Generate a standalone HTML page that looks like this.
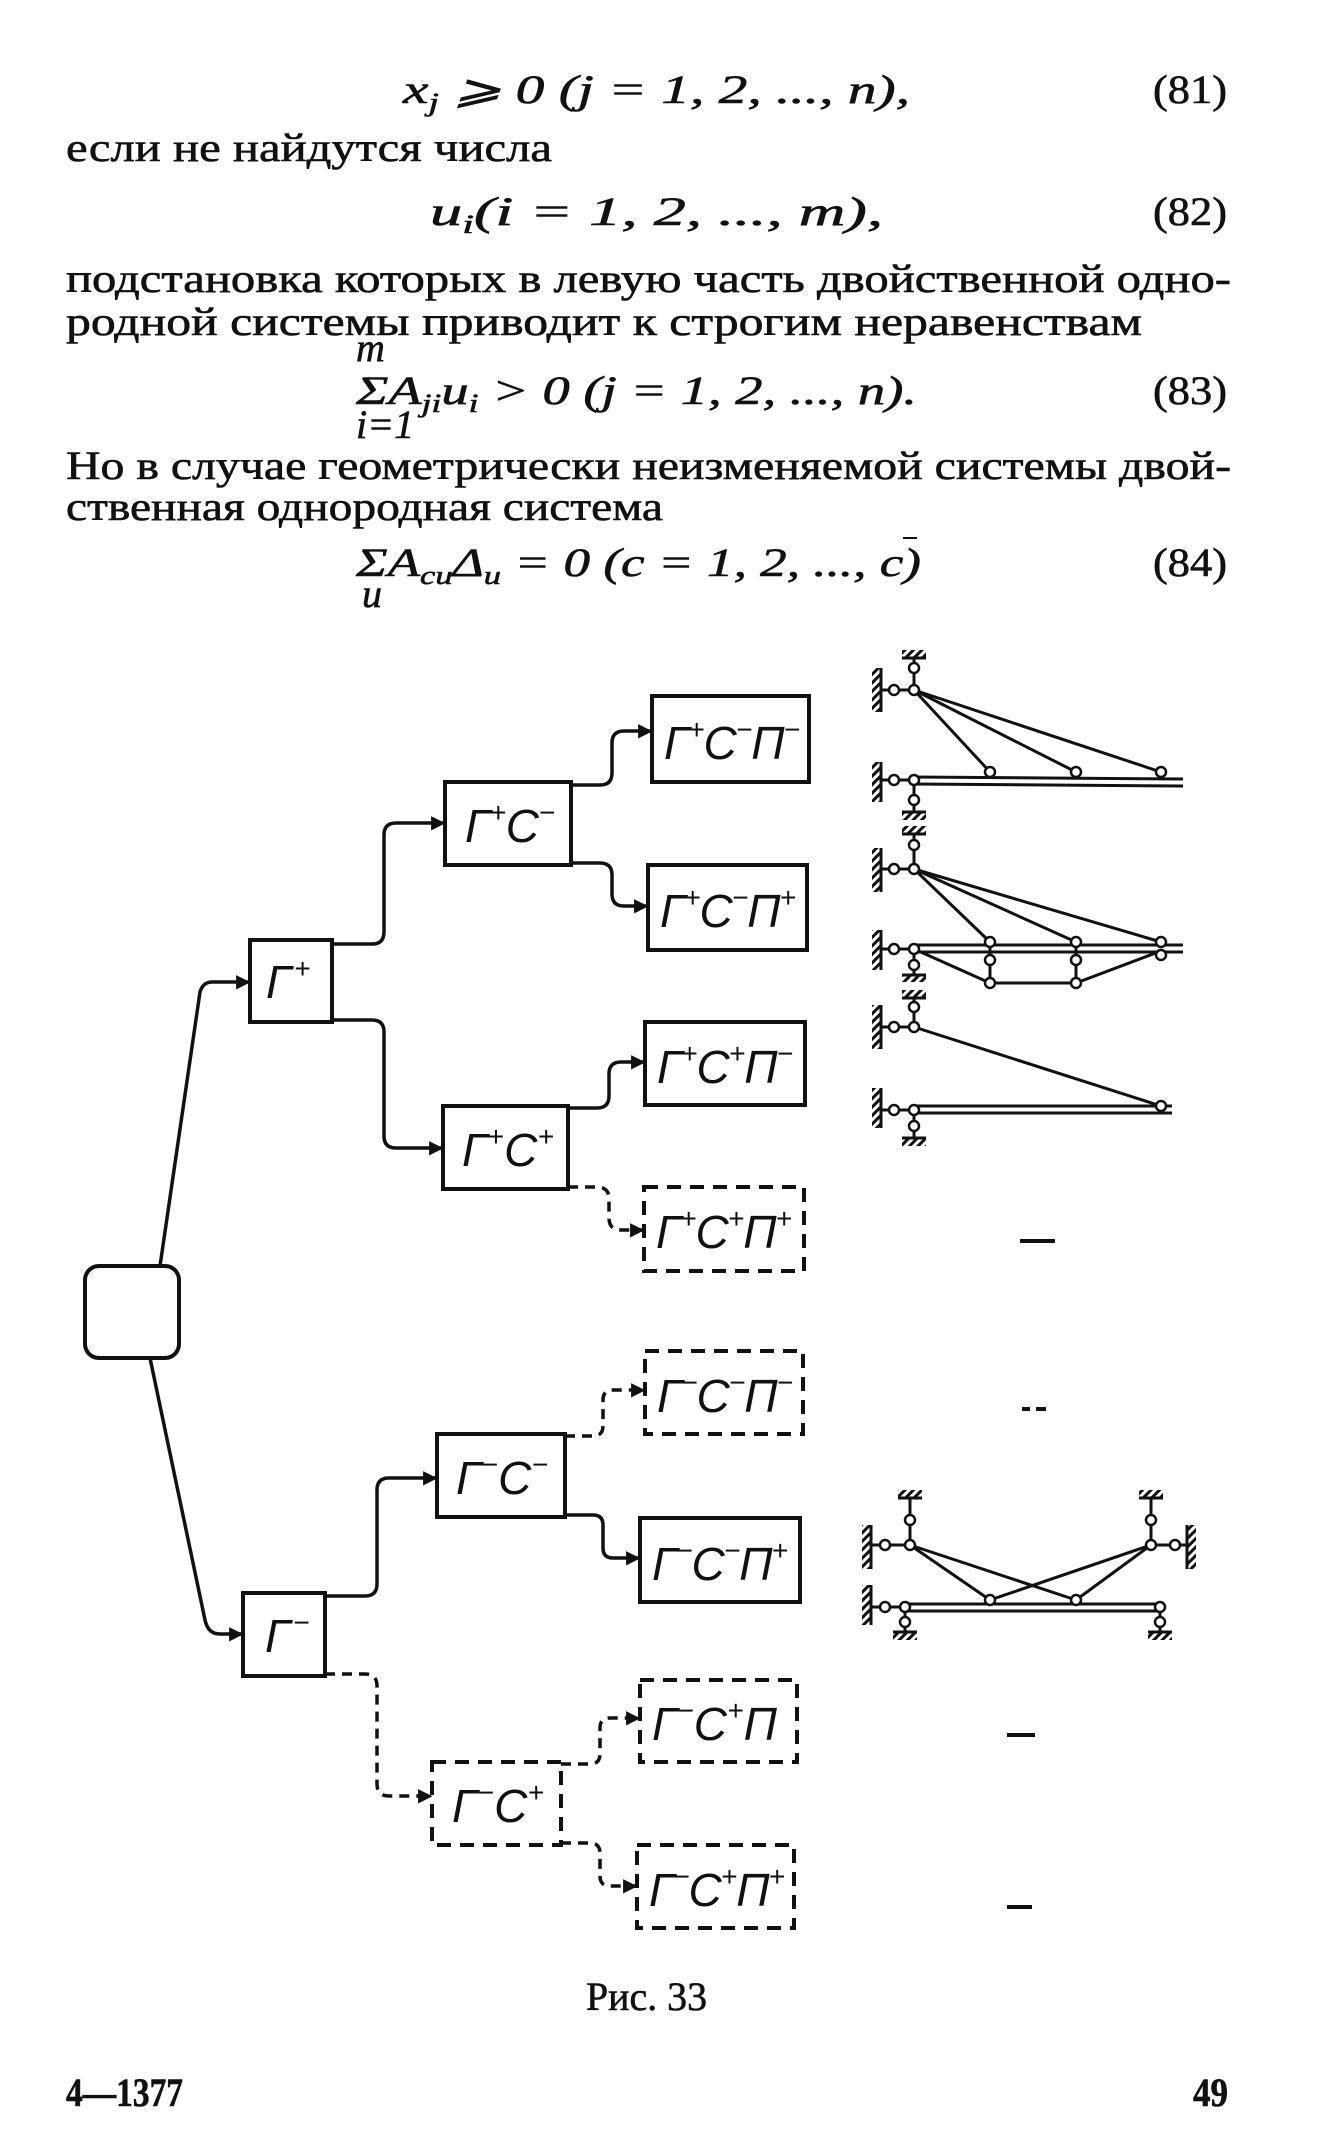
<!DOCTYPE html>
<html><head><meta charset="utf-8"><style>
html,body{margin:0;padding:0;background:#fff;}
svg{display:block;}
.t{font-family:"Liberation Serif","DejaVu Serif",serif;font-size:40px;fill:#111;stroke:#111;stroke-width:0.6;}
.i{font-style:italic;}
.lb{font-family:"Liberation Sans","DejaVu Sans",sans-serif;font-style:italic;font-size:46px;fill:#111;}
</style></head><body>
<svg width="1324" height="2151" viewBox="0 0 1324 2151" xmlns="http://www.w3.org/2000/svg">
<defs>
<marker id="a" viewBox="0 0 10 10" refX="10" refY="5" markerWidth="6" markerHeight="6" orient="auto" markerUnits="userSpaceOnUse" style="overflow:visible">
<path d="M0 0 L10 5 L0 10 z" fill="#111" transform="scale(2.4) translate(-5.5,-2.7)"/>
</marker>
<pattern id="h" width="6" height="6" patternUnits="userSpaceOnUse" patternTransform="rotate(45)"><rect width="3" height="6" fill="#111"/></pattern>
</defs>

<!-- Text -->
<text class="t i" x="403" y="103" textLength="507" lengthAdjust="spacingAndGlyphs">x<tspan font-size="26" dy="8">j</tspan><tspan dy="-8"> ⩾ 0  (j = 1,  2,  ...,  n),</tspan></text>
<text class="t" x="1153" y="103" textLength="74" lengthAdjust="spacingAndGlyphs">(81)</text>
<text class="t" x="66" y="161" textLength="486" lengthAdjust="spacingAndGlyphs">если не найдутся числа</text>
<text class="t i" x="430" y="225" textLength="453" lengthAdjust="spacingAndGlyphs">u<tspan font-size="26" dy="8">i</tspan><tspan dy="-8">(i = 1,  2,  ...,  m),</tspan></text>
<text class="t" x="1153" y="225" textLength="74" lengthAdjust="spacingAndGlyphs">(82)</text>
<text class="t" x="66" y="292" textLength="1165" lengthAdjust="spacingAndGlyphs">подстановка  которых  в  левую  часть  двойственной  одно-</text>
<text class="t" x="66" y="335" textLength="1076" lengthAdjust="spacingAndGlyphs">родной  системы  приводит  к  строгим  неравенствам</text>
<text class="t i" x="356" y="361" font-size="26">m</text>
<text class="t i" x="356" y="404" textLength="561" lengthAdjust="spacingAndGlyphs">ΣA<tspan font-size="26" dy="8">ji</tspan><tspan dy="-8">u</tspan><tspan font-size="26" dy="8">i</tspan><tspan dy="-8"> &gt; 0  (j = 1, 2, ..., n).</tspan></text>
<text class="t" x="1153" y="404" textLength="74" lengthAdjust="spacingAndGlyphs">(83)</text>
<text class="t i" x="356" y="438" font-size="24">i=1</text>
<text class="t" x="66" y="479" textLength="1165" lengthAdjust="spacingAndGlyphs">Но в случае геометрически неизменяемой системы двой-</text>
<text class="t" x="66" y="520" textLength="597" lengthAdjust="spacingAndGlyphs">ственная однородная система</text>
<text class="t i" x="356" y="576" textLength="565" lengthAdjust="spacingAndGlyphs">ΣA<tspan font-size="26" dy="8">cu</tspan><tspan dy="-8">Δ</tspan><tspan font-size="26" dy="8">u</tspan><tspan dy="-8"> = 0  (c = 1, 2, ..., c)</tspan></text>
<line x1="903" y1="538" x2="917" y2="538" stroke="#111" stroke-width="2"/>
<text class="t" x="1153" y="576" textLength="74" lengthAdjust="spacingAndGlyphs">(84)</text>
<text class="t i" x="362" y="607" font-size="26">u</text>

<!-- Boxes -->
<g fill="none" stroke="#111" stroke-width="4">
<rect x="85" y="1266" width="94" height="92" rx="14"/>
<rect x="250" y="940" width="82" height="82"/>
<rect x="445" y="782" width="126" height="83"/>
<rect x="443" y="1106" width="125" height="83"/>
<rect x="652" y="696" width="157" height="86"/>
<rect x="648" y="865" width="159" height="85"/>
<rect x="645" y="1022" width="160" height="83"/>
<rect x="243" y="1593" width="82" height="83"/>
<rect x="437" y="1434" width="128" height="83"/>
<rect x="640" y="1518" width="160" height="84"/>
</g>
<g fill="none" stroke="#111" stroke-width="4" stroke-dasharray="14 9">
<rect x="644" y="1187" width="160" height="84"/>
<rect x="645" y="1351" width="158" height="83"/>
<rect x="432" y="1762" width="129" height="83"/>
<rect x="640" y="1680" width="157" height="82"/>
<rect x="637" y="1845" width="157" height="83"/>
</g>

<!-- Connectors -->
<g fill="none" stroke="#111" stroke-width="3.5" marker-end="url(#a)">
<path d="M160 1266 L200 992 Q203 982 212 982 H250"/>
<path d="M150 1358 L205 1620 Q208 1634 220 1634 H243"/>
<path d="M332 944 H372 Q384 944 384 932 V835 Q384 823 396 823 H445"/>
<path d="M332 1020 H372 Q384 1020 384 1032 V1136 Q384 1148 396 1148 H443"/>
<path d="M571 785 H600 Q612 785 612 773 V743 Q612 731 624 731 H652"/>
<path d="M571 863 H600 Q612 863 612 875 V894 Q612 906 624 906 H648"/>
<path d="M568 1108 H597 Q609 1108 609 1096 V1074 Q609 1062 621 1062 H645"/>
<path d="M325 1596 H365 Q377 1596 377 1584 V1490 Q377 1478 389 1478 H437"/>
<path d="M565 1515 H593 Q603 1515 603 1525 V1548 Q603 1558 613 1558 H640"/>
</g>
<g fill="none" stroke="#111" stroke-width="3.5" stroke-dasharray="10 7" marker-end="url(#a)">
<path d="M568 1187 H597 Q609 1187 609 1199 V1218 Q609 1230 621 1230 H644"/>
<path d="M325 1674 H365 Q377 1674 377 1686 V1784 Q377 1796 389 1796 H432"/>
<path d="M565 1436 H593 Q603 1436 603 1426 V1400 Q603 1390 613 1390 H645"/>
<path d="M561 1764 H590 Q600 1764 600 1754 V1728 Q600 1718 610 1718 H640"/>
<path d="M561 1843 H590 Q600 1843 600 1853 V1876 Q600 1886 610 1886 H637"/>
</g>

<!-- Labels -->
<g class="lb">
<text x="266" y="998">Г<tspan font-size="28" dx="3" dy="-20">+</tspan></text>
<text x="465" y="842" textLength="90" lengthAdjust="spacing">Г<tspan font-size="28" dy="-20">+</tspan><tspan dy="20">С</tspan><tspan font-size="28" dy="-20">−</tspan></text>
<text x="462" y="1166" textLength="92" lengthAdjust="spacing">Г<tspan font-size="28" dy="-20">+</tspan><tspan dy="20">С</tspan><tspan font-size="28" dy="-20">+</tspan></text>
<text x="265" y="1652">Г<tspan font-size="28" dx="3" dy="-20">−</tspan></text>
<text x="456" y="1494" textLength="92" lengthAdjust="spacing">Г<tspan font-size="28" dy="-20">−</tspan><tspan dy="20">С</tspan><tspan font-size="28" dy="-20">−</tspan></text>
<text x="452" y="1822" textLength="92" lengthAdjust="spacing">Г<tspan font-size="28" dy="-20">−</tspan><tspan dy="20">С</tspan><tspan font-size="28" dy="-20">+</tspan></text>
<text x="664" y="759" textLength="136" lengthAdjust="spacing">Г<tspan font-size="28" dy="-20">+</tspan><tspan dy="20">С</tspan><tspan font-size="28" dy="-20">−</tspan><tspan dy="20">П</tspan><tspan font-size="28" dy="-20">−</tspan></text>
<text x="660" y="927" textLength="136" lengthAdjust="spacing">Г<tspan font-size="28" dy="-20">+</tspan><tspan dy="20">С</tspan><tspan font-size="28" dy="-20">−</tspan><tspan dy="20">П</tspan><tspan font-size="28" dy="-20">+</tspan></text>
<text x="657" y="1083" textLength="136" lengthAdjust="spacing">Г<tspan font-size="28" dy="-20">+</tspan><tspan dy="20">С</tspan><tspan font-size="28" dy="-20">+</tspan><tspan dy="20">П</tspan><tspan font-size="28" dy="-20">−</tspan></text>
<text x="656" y="1248" textLength="136" lengthAdjust="spacing">Г<tspan font-size="28" dy="-20">+</tspan><tspan dy="20">С</tspan><tspan font-size="28" dy="-20">+</tspan><tspan dy="20">П</tspan><tspan font-size="28" dy="-20">+</tspan></text>
<text x="657" y="1412" textLength="136" lengthAdjust="spacing">Г<tspan font-size="28" dy="-20">−</tspan><tspan dy="20">С</tspan><tspan font-size="28" dy="-20">−</tspan><tspan dy="20">П</tspan><tspan font-size="28" dy="-20">−</tspan></text>
<text x="652" y="1580" textLength="136" lengthAdjust="spacing">Г<tspan font-size="28" dy="-20">−</tspan><tspan dy="20">С</tspan><tspan font-size="28" dy="-20">−</tspan><tspan dy="20">П</tspan><tspan font-size="28" dy="-20">+</tspan></text>
<text x="652" y="1740" textLength="125" lengthAdjust="spacing">Г<tspan font-size="28" dy="-20">−</tspan><tspan dy="20">С</tspan><tspan font-size="28" dy="-20">+</tspan><tspan dy="20">П</tspan></text>
<text x="649" y="1906" textLength="136" lengthAdjust="spacing">Г<tspan font-size="28" dy="-20">−</tspan><tspan dy="20">С</tspan><tspan font-size="28" dy="-20">+</tspan><tspan dy="20">П</tspan><tspan font-size="28" dy="-20">+</tspan></text>
</g>

<!-- Dashes -->
<g stroke="#111" stroke-width="4">
<line x1="1020" y1="1241" x2="1055" y2="1241"/>
<line x1="1022" y1="1409" x2="1030" y2="1409"/><line x1="1036" y1="1409" x2="1046" y2="1409"/>
<line x1="1007" y1="1735" x2="1035" y2="1735"/>
<line x1="1007" y1="1907" x2="1032" y2="1907"/>
</g>

<!-- Structural sketches -->
<g stroke="#111" stroke-width="3" fill="none">
<rect x="902" y="650" width="24" height="8" fill="url(#h)" stroke="none"/><line x1="902" y1="658" x2="926" y2="658"/>
<line x1="914" y1="658" x2="914" y2="690"/>
<rect x="872" y="668" width="8" height="44" fill="url(#h)" stroke="none"/><line x1="881" y1="668" x2="881" y2="712"/>
<line x1="881" y1="690" x2="914" y2="690"/>
<line x1="914" y1="690" x2="990" y2="772"/><line x1="914" y1="690" x2="1076" y2="772"/><line x1="914" y1="690" x2="1161" y2="772"/>
<line x1="912" y1="777" x2="1183" y2="779"/><line x1="912" y1="784" x2="1183" y2="786"/>
<rect x="872" y="762" width="8" height="40" fill="url(#h)" stroke="none"/><line x1="881" y1="762" x2="881" y2="802"/>
<line x1="881" y1="780" x2="914" y2="780"/><line x1="914" y1="780" x2="914" y2="812"/>
<line x1="902" y1="812" x2="926" y2="812"/><rect x="902" y="812" width="24" height="8" fill="url(#h)" stroke="none"/>
<rect x="902" y="826" width="24" height="8" fill="url(#h)" stroke="none"/><line x1="902" y1="834" x2="926" y2="834"/>
<line x1="914" y1="834" x2="914" y2="869"/>
<rect x="872" y="848" width="8" height="44" fill="url(#h)" stroke="none"/><line x1="881" y1="848" x2="881" y2="892"/>
<line x1="881" y1="869" x2="914" y2="869"/>
<line x1="914" y1="869" x2="990" y2="942"/><line x1="914" y1="869" x2="1076" y2="942"/><line x1="914" y1="869" x2="1161" y2="942"/>
<line x1="912" y1="945" x2="1183" y2="945"/><line x1="912" y1="952" x2="1183" y2="952"/>
<rect x="872" y="930" width="8" height="40" fill="url(#h)" stroke="none"/><line x1="881" y1="930" x2="881" y2="970"/>
<line x1="881" y1="949" x2="914" y2="949"/>
<polyline points="914,949 990,983 1076,983 1161,951"/>
<line x1="990" y1="942" x2="990" y2="983"/><line x1="1076" y1="942" x2="1076" y2="983"/>
<line x1="914" y1="949" x2="914" y2="975"/><line x1="902" y1="975" x2="926" y2="975"/><rect x="902" y="975" width="24" height="7" fill="url(#h)" stroke="none"/>
<rect x="902" y="990" width="24" height="8" fill="url(#h)" stroke="none"/><line x1="902" y1="998" x2="926" y2="998"/>
<line x1="914" y1="998" x2="914" y2="1027"/>
<rect x="872" y="1005" width="8" height="44" fill="url(#h)" stroke="none"/><line x1="881" y1="1005" x2="881" y2="1049"/>
<line x1="881" y1="1027" x2="914" y2="1027"/>
<line x1="914" y1="1027" x2="1161" y2="1106"/>
<line x1="912" y1="1106" x2="1172" y2="1106"/><line x1="912" y1="1113" x2="1172" y2="1113"/>
<rect x="872" y="1088" width="8" height="40" fill="url(#h)" stroke="none"/><line x1="881" y1="1088" x2="881" y2="1128"/>
<line x1="881" y1="1110" x2="914" y2="1110"/><line x1="914" y1="1110" x2="914" y2="1138"/>
<line x1="902" y1="1138" x2="926" y2="1138"/><rect x="902" y="1138" width="24" height="8" fill="url(#h)" stroke="none"/>
<rect x="898" y="1490" width="24" height="8" fill="url(#h)" stroke="none"/><line x1="898" y1="1498" x2="922" y2="1498"/>
<line x1="910" y1="1498" x2="910" y2="1545"/>
<rect x="862" y="1525" width="8" height="44" fill="url(#h)" stroke="none"/><line x1="871" y1="1525" x2="871" y2="1569"/>
<line x1="871" y1="1545" x2="910" y2="1545"/>
<rect x="1139" y="1490" width="24" height="8" fill="url(#h)" stroke="none"/><line x1="1139" y1="1498" x2="1163" y2="1498"/>
<line x1="1151" y1="1498" x2="1151" y2="1545"/>
<rect x="1188" y="1525" width="8" height="44" fill="url(#h)" stroke="none"/><line x1="1187" y1="1525" x2="1187" y2="1569"/>
<line x1="1151" y1="1545" x2="1187" y2="1545"/>
<line x1="910" y1="1545" x2="990" y2="1600"/><line x1="910" y1="1545" x2="1076" y2="1600"/>
<line x1="1151" y1="1545" x2="990" y2="1600"/><line x1="1151" y1="1545" x2="1076" y2="1600"/>
<line x1="905" y1="1604" x2="1160" y2="1604"/><line x1="905" y1="1611" x2="1160" y2="1611"/>
<rect x="862" y="1585" width="8" height="40" fill="url(#h)" stroke="none"/><line x1="871" y1="1585" x2="871" y2="1625"/>
<line x1="871" y1="1607" x2="905" y2="1607"/>
<line x1="905" y1="1607" x2="905" y2="1632"/><line x1="893" y1="1632" x2="917" y2="1632"/><rect x="893" y="1632" width="24" height="8" fill="url(#h)" stroke="none"/>
<line x1="1160" y1="1607" x2="1160" y2="1632"/><line x1="1148" y1="1632" x2="1172" y2="1632"/><rect x="1148" y="1632" width="24" height="8" fill="url(#h)" stroke="none"/>
</g>
<g fill="#fff" stroke="#111" stroke-width="2.5">
<circle cx="914" cy="668" r="5"/><circle cx="914" cy="690" r="5"/><circle cx="894" cy="690" r="5"/>
<circle cx="990" cy="772" r="5"/><circle cx="1076" cy="772" r="5"/><circle cx="1161" cy="772" r="5"/>
<circle cx="894" cy="780" r="5"/><circle cx="914" cy="780" r="5"/><circle cx="914" cy="800" r="5"/>
<circle cx="914" cy="845" r="5"/><circle cx="914" cy="869" r="5"/><circle cx="894" cy="869" r="5"/>
<circle cx="990" cy="942" r="5"/><circle cx="1076" cy="942" r="5"/><circle cx="1161" cy="942" r="5"/>
<circle cx="894" cy="949" r="5"/><circle cx="914" cy="949" r="5"/><circle cx="914" cy="965" r="5"/>
<circle cx="990" cy="960" r="5"/><circle cx="1076" cy="960" r="5"/><circle cx="1161" cy="955" r="5"/>
<circle cx="990" cy="983" r="5"/><circle cx="1076" cy="983" r="5"/>
<circle cx="914" cy="1007" r="5"/><circle cx="914" cy="1027" r="5"/><circle cx="894" cy="1027" r="5"/>
<circle cx="1161" cy="1106" r="5"/><circle cx="894" cy="1110" r="5"/><circle cx="914" cy="1110" r="5"/><circle cx="914" cy="1126" r="5"/>
<circle cx="910" cy="1520" r="5"/><circle cx="910" cy="1545" r="5"/><circle cx="885" cy="1545" r="5"/>
<circle cx="1151" cy="1520" r="5"/><circle cx="1151" cy="1545" r="5"/><circle cx="1175" cy="1545" r="5"/>
<circle cx="990" cy="1600" r="5"/><circle cx="1076" cy="1600" r="5"/>
<circle cx="885" cy="1607" r="5"/><circle cx="905" cy="1607" r="5"/><circle cx="1160" cy="1607" r="5"/>
<circle cx="905" cy="1622" r="5"/><circle cx="1160" cy="1622" r="5"/>
</g>

<text class="t" x="586" y="2010" font-size="34" textLength="121" lengthAdjust="spacingAndGlyphs">Рис. 33</text>
<text class="t" x="66" y="2106" font-size="34" font-weight="bold" textLength="117" lengthAdjust="spacingAndGlyphs">4—1377</text>
<text class="t" x="1193" y="2106" font-size="34" font-weight="bold" textLength="35" lengthAdjust="spacingAndGlyphs">49</text>
</svg>
</body></html>
